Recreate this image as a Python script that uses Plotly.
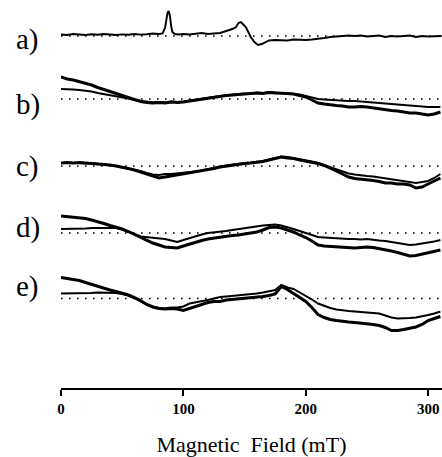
import plotly.graph_objects as go

# ---------------- data (field in mT, intensity in arbitrary units) ----------------
FIELD_A = [0, 5, 10, 15, 20, 25, 30, 35, 40, 45, 50, 55, 60, 65, 70, 75, 80, 83, 85, 86, 87, 88, 89, 90, 91, 93,
           96, 100, 105, 110, 115, 120, 125, 130, 135, 140, 143, 145, 147, 149, 151, 153, 155, 158, 161, 164, 167,
           170, 175, 180, 185, 190, 195, 200, 205, 210, 215, 220, 225, 230, 235, 240, 245, 250, 255, 260, 265,
           270, 275, 280, 285, 290, 295, 300, 305, 311]
SPEC_A = [1.5, 1, 2, 1.5, 1, 1.8, 1.2, 2, 1.5, 1, 1.6, 1.2, 2, 1.4, 1.8, 2.5, 2, 2.5, 8, 16, 23, 25, 20, 10, 4, 2,
          1.5, 2, 1.5, 2.2, 3, 2, 2.5, 3, 5, 7, 9, 13, 14, 11, 9, 4, -1, -6, -9, -8, -6,
          -4.5, -4, -4, -4.5, -3.5, -4, -4, -3.5, -3, -2, -1, -0.5, 0, 0.5, 0, 0.5, -0.5, 0, 0.5, -1,
          0, -0.5, 0, 0.5, -1, 0, -0.5, 0, 0]

FIELD = [0, 5, 10, 15, 20, 25, 30, 35, 40, 45, 50, 55, 60, 65, 70, 75, 80, 85, 90, 95, 100, 105, 110, 115, 120,
         125, 130, 135, 140, 145, 150, 155, 160, 165, 170, 175, 180, 185, 190, 195, 200, 205, 210, 215, 220, 225,
         230, 235, 240, 245, 250, 255, 260, 265, 270, 275, 280, 285, 290, 295, 300, 305, 310]

SPEC_B1 = [22, 20, 19, 17.5, 16, 14, 11.5, 9.5, 7, 5, 3, 1, -1, -2.5, -3.5, -4, -3.5, -4, -3, -3.5, -3, -2, -1, 0,
           1, 2, 2.5, 3.5, 4, 4.5, 5, 5.5, 6, 5.5, 6.5, 6, 6, 5.5, 5, 3.5, 2, -1, -4, -5, -6, -6.5, -7, -8, -8,
           -7.5, -8, -9, -10, -11, -11.5, -12, -13, -14, -14, -15, -16, -15, -13]
SPEC_B2 = [10, 10, 9.5, 9, 8.5, 7.5, 6, 5, 4, 3, 2, 0.5, -1, -2, -3, -3.5, -3, -3.5, -2.5, -3, -2.5, -1.5, -0.5,
           0.5, 1.5, 2, 3, 3.5, 4.5, 5, 5.5, 5, 6.5, 6, 7, 6.5, 6.5, 6, 5.5, 4.5, 3, 1.5, 0, -0.5, -1, -1.5, -1.5,
           -2, -2, -2.5, -3, -3.5, -4, -5, -5, -6, -6.5, -7, -7.5, -8, -8, -8, -8]

SPEC_C1 = [3, 3.5, 3, 3.5, 3, 2.5, 2.5, 1.5, 1, 0, -1, -2.5, -4, -6, -8, -10, -12, -11, -10, -8.5, -8, -7, -6, -5,
           -3.5, -2.5, -1, 0, 1, 1.5, 2.5, 3, 3.5, 4.5, 6, 7.5, 9, 8, 7.5, 6, 5, 4, 2.5, 0.5, -2, -5, -8, -11,
           -12.5, -13, -14, -14.5, -15.5, -17, -17, -18, -18, -19, -22, -21, -18, -15, -12]
SPEC_C2 = [3, 3, 3.5, 3, 2.5, 3, 2, 1.5, 0.5, 0, -1.5, -2.5, -4, -5, -7, -8.5, -9, -8, -8, -7.5, -7, -6, -5.5,
           -4.5, -3, -2, -0.5, 0.5, 1.5, 2, 3, 3.5, 4, 5, 6.5, 8, 9.5, 9, 8, 6.5, 5.5, 4.5, 3, 1, -1, -3, -5.5,
           -7.5, -8.5, -9.5, -10, -10.5, -11.5, -12, -13, -14, -15, -16, -17, -16, -15, -12, -8]

SPEC_D1 = [17, 16.5, 16, 15, 14.5, 13, 11.5, 9.5, 7.5, 6, 4, 1.5, -1.5, -4, -7, -10, -12, -14, -14.5, -15, -13,
           -11, -9, -7.5, -6, -5, -4.5, -3.5, -2.5, -2, -1, 0, 1, 3, 5.5, 6, 5, 3, 1, -2, -4.5, -8, -12, -13,
           -13.5, -14, -14.5, -15, -15, -14.5, -14, -14.5, -15.5, -17, -18, -19.5, -21, -23, -22.5, -21, -20,
           -18.5, -17]
SPEC_D2 = [4, 4, 4.5, 4, 4.5, 5, 5, 5.5, 5.5, 5, 3.5, 1.5, -1, -3.5, -4, -5, -5.5, -6, -7.5, -9, -7, -5, -3,
           -1.5, 0, 0.5, 1, 2, 3, 4, 4.5, 5.5, 6.5, 7.5, 8, 8.5, 7.5, 6, 4, 2, 0, -2, -4, -4.5, -5, -5, -5.5, -6,
           -6, -6.5, -6, -7, -7.5, -8, -9, -10, -11, -12, -11.5, -10.5, -10, -8.5, -7]

SPEC_E1 = [21, 20, 19, 18, 16, 14, 12, 10, 8.5, 7, 5.5, 3.5, 1, -2, -6, -8.5, -10, -10.5, -10, -10.5, -12, -10,
           -8, -6, -4, -3, -3, -1.5, -1, -0.5, 0, 0.5, 1, 2, 3, 4.5, 12, 9, 5, 1, -3, -9, -16, -19, -21, -22,
           -23, -23.5, -24, -24.5, -25, -26, -27, -29, -32, -32, -31, -29.5, -28.5, -26, -22, -20, -18]
SPEC_E2 = [5, 5, 5, 5, 5.5, 5.5, 6, 6, 6, 5.5, 4.5, 3, 0.5, -2.5, -6, -8, -9.5, -10, -9, -9, -8, -5, -4, -3,
           -1.5, 0, 1.5, 2, 2.5, 3, 3.5, 4.5, 5, 6, 7, 8.5, 13.5, 11, 9.5, 6, 3, -1, -5, -7.5, -9.5, -11, -12,
           -12.5, -13, -13.5, -13.5, -14, -15, -17, -19, -20, -20, -19.5, -19, -18, -16.5, -15, -13]

LABELS = ["a)", "b)", "c)", "d)", "e)"]
TICKS = [0, 100, 200, 300]
X_TITLE = "Magnetic  Field (mT)"

# ---------------- layout constants ----------------
OFFSETS = [-36, -99, -166, -233, -298.5]       # vertical position of each spectrum's baseline
LABEL_Y = [-39, -104, -166, -227, -286]
SERIF = "Liberation Serif, Times New Roman, serif"

fig = go.Figure()

def add_line(xs, ys, off, width):
    fig.add_trace(go.Scatter(x=xs, y=[v + off for v in ys], mode="lines",
                             line=dict(color="black", width=width), hoverinfo="skip"))

def add_base(off):
    fig.add_trace(go.Scatter(x=[FIELD[0], 311.3], y=[off, off], mode="lines",
                             line=dict(color="black", width=1.6, dash="1.6px,6.4px"), hoverinfo="skip"))

for off in OFFSETS:
    add_base(off)

add_line(FIELD_A, SPEC_A, OFFSETS[0], 1.9)
pairs = [(SPEC_B1, SPEC_B2), (SPEC_C1, SPEC_C2), (SPEC_D1, SPEC_D2), (SPEC_E1, SPEC_E2)]
for i, (s1, s2) in enumerate(pairs):
    add_line(FIELD, s2, OFFSETS[i + 1], 2.0)
    add_line(FIELD, s1, OFFSETS[i + 1], 3.0)

for lab, ly in zip(LABELS, LABEL_Y):
    fig.add_annotation(text=lab, xref="paper", x=-47 / 381, xanchor="left", yref="y", y=ly,
                       yanchor="middle", showarrow=False,
                       font=dict(family=SERIF, size=29, color="black"))

fig.update_layout(
    width=442, height=457, margin=dict(l=61, r=0, t=0, b=69),
    paper_bgcolor="white", plot_bgcolor="white", showlegend=False,
    xaxis=dict(range=[0, 311.3], showgrid=False, zeroline=False, showline=True,
               linecolor="black", linewidth=2, ticks="outside", ticklen=6, tickwidth=1.5,
               tickcolor="black", tickvals=TICKS, ticktext=[str(t) for t in TICKS],
               tickfont=dict(family=SERIF, size=15, color="black", weight="bold"),
               title=dict(text=X_TITLE, font=dict(family=SERIF, size=22, color="black"), standoff=25)),
    yaxis=dict(range=[-388, 0], visible=False),
)

fig.write_html("out.html", config={"displayModeBar": False},
               post_script="document.body.style.margin='0px';document.body.style.overflow='hidden';")
